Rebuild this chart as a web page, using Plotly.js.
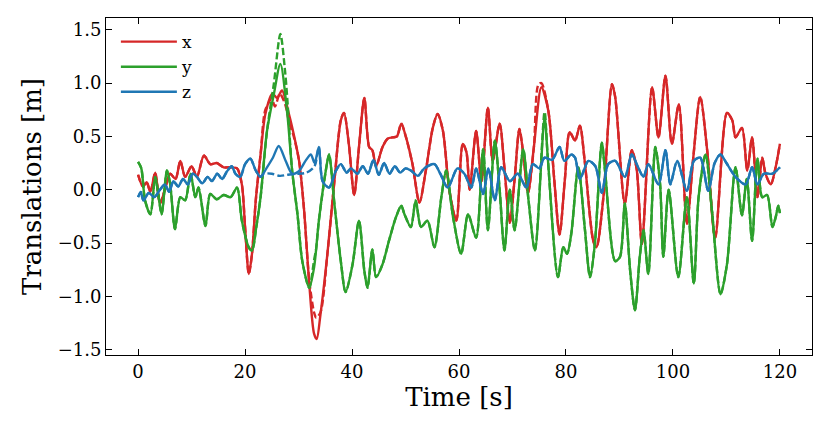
<!DOCTYPE html>
<html><head><meta charset="utf-8">
<script src="https://cdn.plot.ly/plotly-3.0.1.min.js"></script>
<style>body{margin:0;background:#fff}#chart{width:830px;height:433px}</style>
</head><body><div id="chart"></div>
<script>
// Time [s] and translation [m] samples
const xTime = [0,0.9,1.6,2.3,3.2,4.1,5,6,7,7.9,8.8,10,11,12.3,13.5,14.7,16,17.3,18.5,19.4,20,20.7,21.3,22,22.9,23.8,25.1,26,26.9,28.2,29.1,30.1,31,32,32.9,33.4,34.1,35.4,36.7,37.9,38.5,39.4,40.4,41.3,42.3,43.2,43.8,44.5,45.7,46.7,47.6,48.4,49.2,50.1,51.3,52.6,53.8,55.1,56,57,58.2,59.5,60.7,61.4,62,63.2,64.2,65.4,66.3,67.6,68.5,69.5,70.4,71.3,72.1,72.9,74,75.4,76.7,77.8,78.8,79.8,80.7,81.7,82.6,83.5,85.1,85.7,87,88.6,89.2,91,92.3,93.2,94.2,96.1,97.3,98.6,99.8,101.1,102.6,103.8,105.1,106.4,107.9,110.1,111.1,111.7,112.9,113.9,114.8,115.8,116.7,117.3,118.3,119.2,120];
const xVal  = [0.14,0.03,0.07,-0.02,0.16,-0.13,0.0,0.15,0.1,0.27,0.12,0.22,0.12,0.32,0.24,0.25,0.21,0.21,0.2,0.05,-0.35,-0.79,-0.6,-0.1,0.33,0.71,0.9,0.86,0.93,0.71,0.52,0.27,-0.17,-0.88,-1.35,-1.4,-1.17,-0.6,0.08,0.65,0.72,0.43,-0.05,0.4,0.86,0.4,0.37,0.22,0.4,0.48,0.49,0.5,0.62,0.49,0.24,-0.12,0.18,0.58,0.71,0.55,-0.01,-0.29,0.43,0.35,0.0,0.55,0.08,0.77,0.27,0.62,0.2,-0.31,0.1,0.57,0.3,-0.03,0.4,0.96,0.74,0.1,-0.42,0.1,0.54,0.46,0.6,0.27,-0.48,-0.54,-0.07,0.99,0.87,-0.13,0.37,0.2,-0.51,0.96,0.49,1.07,0.43,0.8,-0.32,0.3,0.87,0.37,-0.45,0.72,0.65,0.49,0.58,0.18,0.49,-0.07,0.3,0.15,0.05,0.21,0.43];

const yTime = [0,0.6,1.3,2.3,3.2,3.8,4.4,5.4,6,6.9,7.9,8.8,9.8,10.7,11.3,12.6,13.5,14.7,16,17.3,18.5,19.4,20.7,21.3,22.1,22.9,24.1,25.4,26.6,27.9,28.8,29.8,30.7,32,32.9,33.8,35.1,35.7,36.7,37.9,38.8,40.1,41.3,42.3,42.9,43.8,44.5,45.7,46.9,48.2,49.2,49.8,51,51.9,52.9,54.1,55.4,56.7,57.6,58.9,60.4,61.7,63.2,64.5,65.4,66.7,67.6,68.5,69.5,70.4,72,73,74.2,76,76.6,78.5,79.5,80.2,81,82.3,83.5,84.5,85.4,86.7,87.3,89.2,90.1,91,92,92.9,93.8,94.5,95.4,96.7,97.6,98.2,99.2,101,102.6,103.9,104.8,106.1,107.3,108.9,110.1,111.7,112.9,113.8,114.8,115.8,116.7,117.6,118.6,119.2,119.7,120];
const yVal  = [0.26,0.2,-0.1,-0.23,0.12,-0.05,-0.23,0.18,0.05,-0.37,-0.07,-0.1,0.15,-0.07,0.02,-0.34,-0.04,-0.09,-0.05,-0.07,0.02,-0.29,-0.54,-0.57,-0.35,-0.07,0.55,0.9,1.18,0.71,0.18,-0.23,-0.67,-0.92,-0.73,-0.29,0.18,0.33,-0.13,-0.67,-0.96,-0.7,-0.29,-0.76,-0.92,-0.56,-0.82,-0.7,-0.48,-0.26,-0.15,-0.23,-0.35,-0.1,-0.35,-0.29,-0.54,-0.07,0.18,-0.26,-0.6,-0.23,-0.45,0.38,-0.38,0.46,0.0,-0.57,0.0,-0.38,0.38,-0.1,-0.57,0.68,0.3,-0.82,-0.54,-0.6,-0.41,0.21,-0.35,-0.82,-0.51,0.44,0.18,-0.67,-0.63,-0.13,-0.76,-1.13,-0.63,-0.38,-0.79,0.4,0.05,-0.63,0.0,-0.82,-0.07,-0.88,-0.07,0.33,-0.2,-0.98,-0.7,0.21,-0.24,0.1,-0.48,0.29,-0.07,-0.05,-0.35,-0.26,-0.15,-0.22];

const zTime = [0,0.5,1,2,3,4.1,5,5.8,6.6,7.5,8.4,9.3,10.2,11,12,13,13.8,14.8,15.7,16.6,17.5,18.2,19.1,20,21,22,22.9,24.1,25.2,26.3,27.6,28.8,30,31.3,32.3,33,33.8,34.5,35.7,37,37.9,39,39.8,41,42,43,44,45,46,47,48,49,50,51,52.3,53.5,55.4,56.5,57.9,59.7,61,62.3,63.2,64.5,65.5,66.7,67.9,69.5,71,72.6,73.8,75,76,77.4,78.8,79.7,81,81.7,82.6,84.2,85.5,86.7,87.9,89.2,91,92.3,93.4,94.5,95.4,97.3,98.6,99.5,100.8,102.6,103.9,105.1,106.6,107.8,108.9,110,111.7,113.6,114.8,115.8,117,118.6,120];
const zVal  = [-0.07,-0.02,-0.1,-0.03,-0.07,0.0,0.05,-0.02,0.08,0.03,0.1,0.05,0.15,0.12,0.06,0.12,0.08,0.15,0.1,0.17,0.22,0.15,0.12,0.24,0.29,0.18,0.12,0.21,0.3,0.41,0.27,0.15,0.17,0.27,0.33,0.25,0.4,0.08,0.02,0.18,0.24,0.16,0.2,0.15,0.22,0.15,0.28,0.14,0.25,0.15,0.22,0.16,0.2,0.18,0.13,0.2,0.24,0.15,0.02,0.2,0.15,0.02,0.2,-0.04,0.2,-0.1,0.21,0.08,0.15,0.02,0.24,0.2,0.3,0.28,0.4,0.27,0.33,0.3,0.1,0.27,0.22,-0.03,0.24,0.27,0.12,0.33,0.22,0.12,0.24,0.05,0.37,0.05,0.27,-0.01,0.27,0.3,-0.01,0.25,0.33,0.25,0.12,0.05,0.21,0.05,0.15,0.15,0.21];

// Segments where the dashed curves visibly depart from the solid ones
const xDashTime = [23.8,25,25.6,26.5,27.5,28.3,29.1];
const xDashVal  = [0.75,0.85,0.78,0.9,0.8,0.62,0.5];
const xDashTime2 = [32,32.9,33.3,34.1,35.4];
const xDashVal2  = [-0.85,-1.15,-1.2,-1.15,-0.6];
const xDashTime3 = [74,74.8,75.4,76.7];
const xDashVal3  = [0.4,0.98,1.0,0.74];
const yDashTime = [24.1,25.4,26.6,27.5,27.9];
const yDashVal  = [0.55,1.0,1.46,1.1,0.85];
const yDashTime2 = [32,32.9,33.3,33.8];
const yDashVal2  = [-0.92,-0.66,-0.55,-0.29];
const yDashTime3 = [74.2,76,76.6];
const yDashVal3  = [-0.57,0.73,0.3];
const zDashTime = [22.9,23.5,25,26.5,28,30,31.5,33];
const zDashVal  = [0.12,0.15,0.15,0.13,0.14,0.15,0.16,0.22];

function withOverrides(t, v, segs) {
  let pts = t.map((ti, i) => [ti, v[i]]);
  segs.forEach(([st, sv]) => {
    const a = st[0], b = st[st.length - 1];
    pts = pts.filter(p => p[0] < a || p[0] > b);
    st.forEach((ti, i) => pts.push([ti, sv[i]]));
  });
  pts.sort((p, q) => p[0] - q[0]);
  return {t: pts.map(p => p[0]), v: pts.map(p => p[1])};
}

const xD = withOverrides(xTime, xVal, [[xDashTime, xDashVal], [xDashTime2, xDashVal2], [xDashTime3, xDashVal3]]);
const yD = withOverrides(yTime, yVal, [[yDashTime, yDashVal], [yDashTime2, yDashVal2], [yDashTime3, yDashVal3]]);
const zD = withOverrides(zTime, zVal, [[zDashTime, zDashVal]]);

const RED = '#d62728', GREEN = '#2ca02c', BLUE = '#1f77b4';
const W = 2.4;
function solid(t, v, c, name) {
  return {x: t, y: v, type: 'scatter', mode: 'lines', name: name,
          line: {color: c, width: W, shape: 'spline', smoothing: 0.8}, hoverinfo: 'skip'};
}
function dashed(d, c) {
  return {x: d.t, y: d.v, type: 'scatter', mode: 'lines', showlegend: false,
          line: {color: c, width: W, dash: '7px,3px', shape: 'spline', smoothing: 0.8}, hoverinfo: 'skip'};
}

const data = [
  solid(xTime, xVal, RED, 'x'), dashed(xD, RED),
  solid(yTime, yVal, GREEN, 'y'), dashed(yD, GREEN),
  solid(zTime, zVal, BLUE, 'z'), dashed(zD, BLUE)
];

const FONT = "'DejaVu Serif', serif";
const axisCommon = {
  ticks: 'inside', ticklen: 6, tickwidth: 1, tickcolor: '#000',
  showline: true, linecolor: '#000', linewidth: 1, mirror: 'allticks',
  showgrid: false, zeroline: false,
  tickfont: {family: FONT, size: 18, color: '#000'}
};

const layout = {
  width: 830, height: 433,
  margin: {l: 106, r: 18, t: 18, b: 78},
  paper_bgcolor: '#fff', plot_bgcolor: '#fff',
  font: {family: FONT, color: '#000'},
  showlegend: true,
  legend: {x: 0.014, y: 0.982, xanchor: 'left', yanchor: 'top', itemwidth: 56,
           bgcolor: 'rgba(255,255,255,0)', font: {family: FONT, size: 17, color: '#000'},
           tracegroupgap: 0},
  xaxis: Object.assign({}, axisCommon, {
    range: [-6, 126], tickvals: [0, 20, 40, 60, 80, 100, 120],
    title: {text: 'Time [s]', font: {family: FONT, size: 26, color: '#000'}, standoff: 6}
  }),
  yaxis: Object.assign({}, axisCommon, {
    range: [-1.55, 1.61], tickvals: [-1.5, -1.0, -0.5, 0, 0.5, 1.0, 1.5], tickformat: '.1f',
    title: {text: 'Translations [m]', font: {family: FONT, size: 26, color: '#000'}, standoff: 8}
  })
};

Plotly.newPlot('chart', data, layout, {staticPlot: true, displayModeBar: false});
</script>
</body></html>
